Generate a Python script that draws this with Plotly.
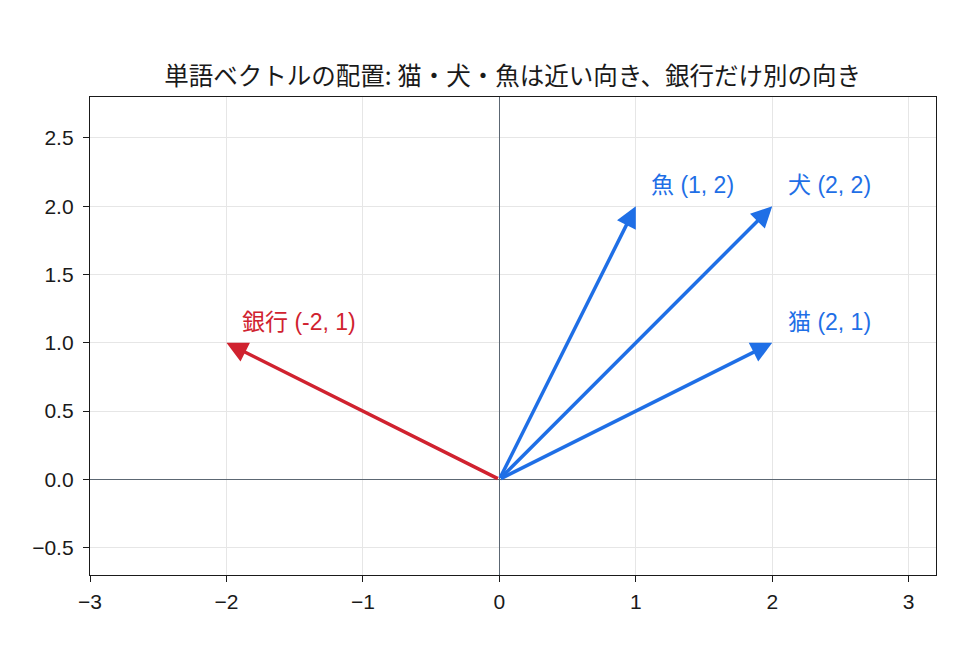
import plotly.graph_objects as go

words = ["猫", "犬", "魚", "銀行"]
vx = [2, 2, 1, -2]
vy = [1, 2, 2, 1]
colors = ["#1f6fe6", "#1f6fe6", "#1f6fe6", "#d0222f"]
title = "単語ベクトルの配置: 猫・犬・魚は近い向き、銀行だけ別の向き"
xticks = [-3, -2, -1, 0, 1, 2, 3]
yticks = [-0.5, 0.0, 0.5, 1.0, 1.5, 2.0, 2.5]

CJK = "Noto Sans CJK JP, sans-serif"
LAT = "Liberation Sans, Noto Sans CJK JP, sans-serif"

fig = go.Figure()
fig.add_trace(go.Scatter(x=vx, y=vy, mode="markers", marker=dict(size=1, opacity=0),
                         hoverinfo="skip", showlegend=False))

anns = []
for w, x, y, c in zip(words, vx, vy, colors):
    anns.append(dict(x=x, y=y, ax=0, ay=0, xref="x", yref="y", axref="x", ayref="y",
                     text="", showarrow=True, arrowhead=2, arrowsize=1.2,
                     arrowwidth=3.5, arrowcolor=c, standoff=0, startstandoff=0))
    anns.append(dict(x=x + 0.1, y=y + 0.155, xref="x", yref="y", text=f"{w} ({x}, {y})",
                     showarrow=False, xanchor="left", yanchor="middle",
                     font=dict(family=LAT, size=23, color=c)))

axis_common = dict(showline=True, linecolor="#1a1a1a", linewidth=1.3, mirror=True,
                   ticks="outside", ticklen=6, tickwidth=1.3, tickcolor="#1a1a1a",
                   showgrid=True, gridcolor="#e6e6e6", gridwidth=1,
                   zeroline=True, zerolinecolor="#5c6773", zerolinewidth=1.3,
                   tickfont=dict(family="Liberation Sans, sans-serif", size=21, color="#1a1a1a"))

fig.update_layout(
    width=960, height=672,
    margin=dict(l=90, r=24, t=97, b=97),
    paper_bgcolor="white", plot_bgcolor="white",
    title=dict(text=title, x=0.534, xanchor="center", y=0.887, yanchor="middle",
               font=dict(family=CJK, size=24.5, color="#1a1a1a")),
    xaxis=dict(range=[-3, 3.2], tickvals=xticks, ticklabelstandoff=2, **axis_common),
    yaxis=dict(range=[-0.7, 2.8], tickvals=yticks, tickformat=".1f",
               ticklabelstandoff=5, **axis_common),
    annotations=anns,
    showlegend=False,
)

fig.write_html("out.html")
